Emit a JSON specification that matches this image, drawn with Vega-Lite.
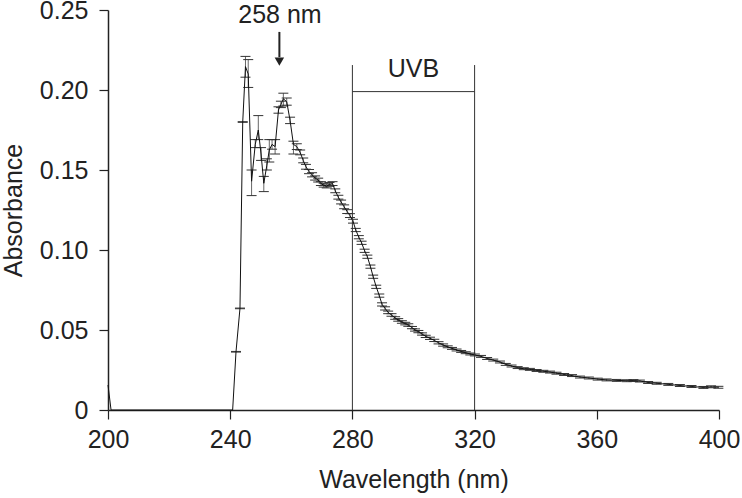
{
  "$schema": "https://vega.github.io/schema/vega-lite/v6.json",
  "width": 611,
  "height": 400,
  "autosize": {"type": "none"},
  "padding": {"left": 108, "top": 10, "right": 23, "bottom": 88},
  "background": "white",
  "config": {
    "view": {"stroke": null},
    "font": "Liberation Sans",
    "axis": {
      "grid": false,
      "domainColor": "#222",
      "tickColor": "#222",
      "labelColor": "#222",
      "titleColor": "#222",
      "labelFont": "Liberation Sans",
      "titleFont": "Liberation Sans",
      "labelFontSize": 25,
      "titleFontSize": 25,
      "titleFontWeight": "normal",
      "tickSize": 9,
      "labelPadding": 8,
      "domainWidth": 1.5,
      "tickWidth": 1.2
    }
  },
  "datasets": {
    "spectrum": [
      {"wl": 200.0, "abs": 0.0156, "lo": 0.0156, "hi": 0.0156},
      {"wl": 201.0, "abs": 0.0, "lo": 0.0, "hi": 0.0},
      {"wl": 240.8, "abs": 0.0, "lo": 0.0, "hi": 0.0},
      {"wl": 241.9, "abs": 0.0364, "lo": 0.0362, "hi": 0.0366},
      {"wl": 243.2, "abs": 0.0635, "lo": 0.0633, "hi": 0.0637},
      {"wl": 244.1, "abs": 0.18, "lo": 0.1798, "hi": 0.1802},
      {"wl": 245.0, "abs": 0.2146, "lo": 0.208, "hi": 0.221},
      {"wl": 245.9, "abs": 0.21, "lo": 0.2016, "hi": 0.219},
      {"wl": 247.0, "abs": 0.143, "lo": 0.134, "hi": 0.15},
      {"wl": 248.2, "abs": 0.166, "lo": 0.164, "hi": 0.169},
      {"wl": 249.2, "abs": 0.175, "lo": 0.169, "hi": 0.184},
      {"wl": 250.1, "abs": 0.16, "lo": 0.156, "hi": 0.164},
      {"wl": 251.0, "abs": 0.1417, "lo": 0.1365, "hi": 0.146},
      {"wl": 252.0, "abs": 0.153, "lo": 0.15, "hi": 0.157},
      {"wl": 252.8, "abs": 0.1625, "lo": 0.155, "hi": 0.169},
      {"wl": 253.7, "abs": 0.166, "lo": 0.163, "hi": 0.169},
      {"wl": 254.7, "abs": 0.1646, "lo": 0.16, "hi": 0.169},
      {"wl": 255.8, "abs": 0.1875, "lo": 0.1855, "hi": 0.1895},
      {"wl": 256.6, "abs": 0.191, "lo": 0.189, "hi": 0.193},
      {"wl": 257.4, "abs": 0.1945, "lo": 0.19, "hi": 0.198},
      {"wl": 258.5, "abs": 0.1927, "lo": 0.1905, "hi": 0.195},
      {"wl": 259.6, "abs": 0.181, "lo": 0.179, "hi": 0.183},
      {"wl": 260.7, "abs": 0.166, "lo": 0.16, "hi": 0.168},
      {"wl": 261.8, "abs": 0.1646, "lo": 0.1628, "hi": 0.1664},
      {"wl": 262.9, "abs": 0.161, "lo": 0.1595, "hi": 0.1625},
      {"wl": 263.9, "abs": 0.156, "lo": 0.1545, "hi": 0.1575},
      {"wl": 264.8, "abs": 0.152, "lo": 0.1505, "hi": 0.1535},
      {"wl": 265.8, "abs": 0.149, "lo": 0.1477, "hi": 0.1503},
      {"wl": 266.8, "abs": 0.147, "lo": 0.1457, "hi": 0.1483},
      {"wl": 267.8, "abs": 0.145, "lo": 0.1437, "hi": 0.1463},
      {"wl": 268.8, "abs": 0.1437, "lo": 0.1425, "hi": 0.1449},
      {"wl": 269.7, "abs": 0.1415, "lo": 0.1403, "hi": 0.1427},
      {"wl": 270.6, "abs": 0.1405, "lo": 0.1393, "hi": 0.1417},
      {"wl": 271.6, "abs": 0.14, "lo": 0.1388, "hi": 0.1412},
      {"wl": 272.5, "abs": 0.141, "lo": 0.1398, "hi": 0.1422},
      {"wl": 273.5, "abs": 0.1415, "lo": 0.1403, "hi": 0.1427},
      {"wl": 274.4, "abs": 0.137, "lo": 0.1358, "hi": 0.1382},
      {"wl": 275.4, "abs": 0.133, "lo": 0.1318, "hi": 0.1342},
      {"wl": 276.3, "abs": 0.13, "lo": 0.1288, "hi": 0.1312},
      {"wl": 277.3, "abs": 0.127, "lo": 0.1258, "hi": 0.1282},
      {"wl": 278.3, "abs": 0.124, "lo": 0.1228, "hi": 0.1252},
      {"wl": 279.2, "abs": 0.1215, "lo": 0.1203, "hi": 0.1227},
      {"wl": 280.2, "abs": 0.118, "lo": 0.1168, "hi": 0.1192},
      {"wl": 281.1, "abs": 0.1125, "lo": 0.1115, "hi": 0.1135},
      {"wl": 282.1, "abs": 0.108, "lo": 0.107, "hi": 0.109},
      {"wl": 283.0, "abs": 0.1045, "lo": 0.1035, "hi": 0.1055},
      {"wl": 284.0, "abs": 0.0995, "lo": 0.0985, "hi": 0.1005},
      {"wl": 284.9, "abs": 0.0958, "lo": 0.0948, "hi": 0.0968},
      {"wl": 285.9, "abs": 0.0896, "lo": 0.0886, "hi": 0.0906},
      {"wl": 286.8, "abs": 0.0833, "lo": 0.0823, "hi": 0.0843},
      {"wl": 287.8, "abs": 0.077, "lo": 0.076, "hi": 0.078},
      {"wl": 288.8, "abs": 0.0715, "lo": 0.0705, "hi": 0.0725},
      {"wl": 289.7, "abs": 0.066, "lo": 0.065, "hi": 0.067},
      {"wl": 290.7, "abs": 0.0635, "lo": 0.0625, "hi": 0.0645},
      {"wl": 291.7, "abs": 0.061, "lo": 0.0602, "hi": 0.0618},
      {"wl": 292.8, "abs": 0.0594, "lo": 0.0586, "hi": 0.0602},
      {"wl": 294.0, "abs": 0.0575, "lo": 0.0567, "hi": 0.0583},
      {"wl": 295.0, "abs": 0.0563, "lo": 0.0555, "hi": 0.0571},
      {"wl": 296.2, "abs": 0.055, "lo": 0.0542, "hi": 0.0558},
      {"wl": 297.3, "abs": 0.054, "lo": 0.0532, "hi": 0.0548},
      {"wl": 298.3, "abs": 0.0531, "lo": 0.0523, "hi": 0.0539},
      {"wl": 299.5, "abs": 0.0515, "lo": 0.0508, "hi": 0.0522},
      {"wl": 300.5, "abs": 0.05, "lo": 0.0493, "hi": 0.0507},
      {"wl": 301.6, "abs": 0.049, "lo": 0.0483, "hi": 0.0497},
      {"wl": 302.8, "abs": 0.0475, "lo": 0.0468, "hi": 0.0482},
      {"wl": 304.0, "abs": 0.046, "lo": 0.0453, "hi": 0.0467},
      {"wl": 305.4, "abs": 0.0448, "lo": 0.0441, "hi": 0.0455},
      {"wl": 306.8, "abs": 0.0435, "lo": 0.0428, "hi": 0.0442},
      {"wl": 308.2, "abs": 0.042, "lo": 0.0413, "hi": 0.0427},
      {"wl": 309.7, "abs": 0.0406, "lo": 0.0399, "hi": 0.0413},
      {"wl": 311.2, "abs": 0.0395, "lo": 0.0389, "hi": 0.0401},
      {"wl": 312.6, "abs": 0.0385, "lo": 0.0379, "hi": 0.0391},
      {"wl": 314.1, "abs": 0.0375, "lo": 0.0369, "hi": 0.0381},
      {"wl": 315.6, "abs": 0.0366, "lo": 0.036, "hi": 0.0372},
      {"wl": 317.1, "abs": 0.0358, "lo": 0.0352, "hi": 0.0364},
      {"wl": 318.6, "abs": 0.035, "lo": 0.0344, "hi": 0.0356},
      {"wl": 320.1, "abs": 0.0344, "lo": 0.0338, "hi": 0.035},
      {"wl": 322.1, "abs": 0.0335, "lo": 0.0329, "hi": 0.0341},
      {"wl": 324.1, "abs": 0.0322, "lo": 0.0316, "hi": 0.0328},
      {"wl": 326.1, "abs": 0.0312, "lo": 0.0306, "hi": 0.0318},
      {"wl": 328.3, "abs": 0.03, "lo": 0.0294, "hi": 0.0306},
      {"wl": 330.2, "abs": 0.0285, "lo": 0.0279, "hi": 0.0291},
      {"wl": 332.1, "abs": 0.0275, "lo": 0.0269, "hi": 0.0281},
      {"wl": 334.1, "abs": 0.0265, "lo": 0.0259, "hi": 0.0271},
      {"wl": 336.1, "abs": 0.0258, "lo": 0.0252, "hi": 0.0264},
      {"wl": 338.1, "abs": 0.0254, "lo": 0.0248, "hi": 0.026},
      {"wl": 340.3, "abs": 0.0247, "lo": 0.0241, "hi": 0.0253},
      {"wl": 342.5, "abs": 0.0242, "lo": 0.0236, "hi": 0.0248},
      {"wl": 344.7, "abs": 0.0237, "lo": 0.0231, "hi": 0.0243},
      {"wl": 346.8, "abs": 0.023, "lo": 0.0224, "hi": 0.0236},
      {"wl": 349.3, "abs": 0.0222, "lo": 0.0216, "hi": 0.0228},
      {"wl": 351.9, "abs": 0.0215, "lo": 0.0209, "hi": 0.0221},
      {"wl": 354.5, "abs": 0.0206, "lo": 0.02, "hi": 0.0212},
      {"wl": 357.4, "abs": 0.02, "lo": 0.0194, "hi": 0.0206},
      {"wl": 360.3, "abs": 0.0193, "lo": 0.0187, "hi": 0.0199},
      {"wl": 363.2, "abs": 0.0188, "lo": 0.0182, "hi": 0.0194},
      {"wl": 366.5, "abs": 0.0185, "lo": 0.0179, "hi": 0.0191},
      {"wl": 369.8, "abs": 0.0183, "lo": 0.0177, "hi": 0.0189},
      {"wl": 372.0, "abs": 0.0184, "lo": 0.0178, "hi": 0.019},
      {"wl": 374.1, "abs": 0.0181, "lo": 0.0175, "hi": 0.0187},
      {"wl": 376.8, "abs": 0.0172, "lo": 0.0166, "hi": 0.0178},
      {"wl": 379.6, "abs": 0.0167, "lo": 0.0161, "hi": 0.0173},
      {"wl": 383.4, "abs": 0.016, "lo": 0.0154, "hi": 0.0166},
      {"wl": 387.2, "abs": 0.0153, "lo": 0.0147, "hi": 0.0159},
      {"wl": 391.0, "abs": 0.0147, "lo": 0.0141, "hi": 0.0153},
      {"wl": 394.9, "abs": 0.0141, "lo": 0.0135, "hi": 0.0147},
      {"wl": 397.4, "abs": 0.0145, "lo": 0.0139, "hi": 0.0151},
      {"wl": 399.8, "abs": 0.0142, "lo": 0.0136, "hi": 0.0148}
    ],
    "uvbSides": [
      {"wl": 280, "bottom": 0, "top": 0.2156},
      {"wl": 320, "bottom": 0, "top": 0.2156}
    ],
    "uvbBar": [
      {"from": 280, "to": 320, "level": 0.199}
    ],
    "labels": [
      {"wl": 300, "abs": 0.2083, "text": "UVB"},
      {"wl": 256.3, "abs": 0.2419, "text": "258 nm"}
    ],
    "arrow": [
      {"wl": 256.1, "start": 0.2363, "end": 0.2205, "tip": 0.2178}
    ]
  },
  "layer": [
    {
      "data": {"name": "spectrum"},
      "transform": [{"filter": "datum.wl > 241"}],
      "mark": {"type": "rule", "color": "#666", "strokeWidth": 1},
      "encoding": {
        "x": {"field": "wl", "type": "quantitative", "scale": {"domain": [200, 400], "nice": false, "zero": false},
          "axis": {"values": [200, 240, 280, 320, 360, 400], "title": "Wavelength (nm)", "titlePadding": 15, "labelFlush": false}},
        "y": {"field": "lo", "type": "quantitative", "scale": {"domain": [0, 0.25], "nice": false},
          "axis": {"values": [0, 0.05, 0.1, 0.15, 0.2, 0.25], "title": "Absorbance", "titlePadding": 13, "labelPadding": 11, "labelFlush": false,
            "labelExpr": "datum.value == 0 ? '0' : format(datum.value, '.2f')"}},
        "y2": {"field": "hi"}
      }
    },
    {
      "data": {"name": "spectrum"},
      "transform": [{"filter": "datum.wl > 241"}],
      "mark": {"type": "point", "shape": "stroke", "filled": false, "stroke": "#333", "strokeWidth": 1, "size": 100, "opacity": 1},
      "encoding": {
        "x": {"field": "wl", "type": "quantitative"},
        "y": {"field": "lo", "type": "quantitative"}
      }
    },
    {
      "data": {"name": "spectrum"},
      "transform": [{"filter": "datum.wl > 241"}],
      "mark": {"type": "point", "shape": "stroke", "filled": false, "stroke": "#333", "strokeWidth": 1, "size": 100, "opacity": 1},
      "encoding": {
        "x": {"field": "wl", "type": "quantitative"},
        "y": {"field": "hi", "type": "quantitative"}
      }
    },
    {
      "data": {"name": "spectrum"},
      "mark": {"type": "line", "color": "#111", "strokeWidth": 1},
      "encoding": {
        "x": {"field": "wl", "type": "quantitative"},
        "y": {"field": "abs", "type": "quantitative"}
      }
    },
    {
      "data": {"name": "uvbSides"},
      "mark": {"type": "rule", "color": "#333", "strokeWidth": 1},
      "encoding": {
        "x": {"field": "wl", "type": "quantitative"},
        "y": {"field": "bottom", "type": "quantitative"},
        "y2": {"field": "top"}
      }
    },
    {
      "data": {"name": "uvbBar"},
      "mark": {"type": "rule", "color": "#333", "strokeWidth": 1},
      "encoding": {
        "x": {"field": "from", "type": "quantitative"},
        "x2": {"field": "to"},
        "y": {"field": "level", "type": "quantitative"}
      }
    },
    {
      "data": {"name": "labels"},
      "mark": {"type": "text", "font": "Liberation Sans", "fontSize": 25, "color": "#222", "align": "center", "baseline": "alphabetic"},
      "encoding": {
        "x": {"field": "wl", "type": "quantitative"},
        "y": {"field": "abs", "type": "quantitative"},
        "text": {"field": "text"}
      }
    },
    {
      "data": {"name": "arrow"},
      "mark": {"type": "rule", "color": "#222", "strokeWidth": 2},
      "encoding": {
        "x": {"field": "wl", "type": "quantitative"},
        "y": {"field": "start", "type": "quantitative"},
        "y2": {"field": "end"}
      }
    },
    {
      "data": {"name": "arrow"},
      "mark": {"type": "point", "shape": "triangle-down", "filled": true, "color": "#222", "size": 90, "opacity": 1},
      "encoding": {
        "x": {"field": "wl", "type": "quantitative"},
        "y": {"field": "tip", "type": "quantitative"}
      }
    }
  ]
}
